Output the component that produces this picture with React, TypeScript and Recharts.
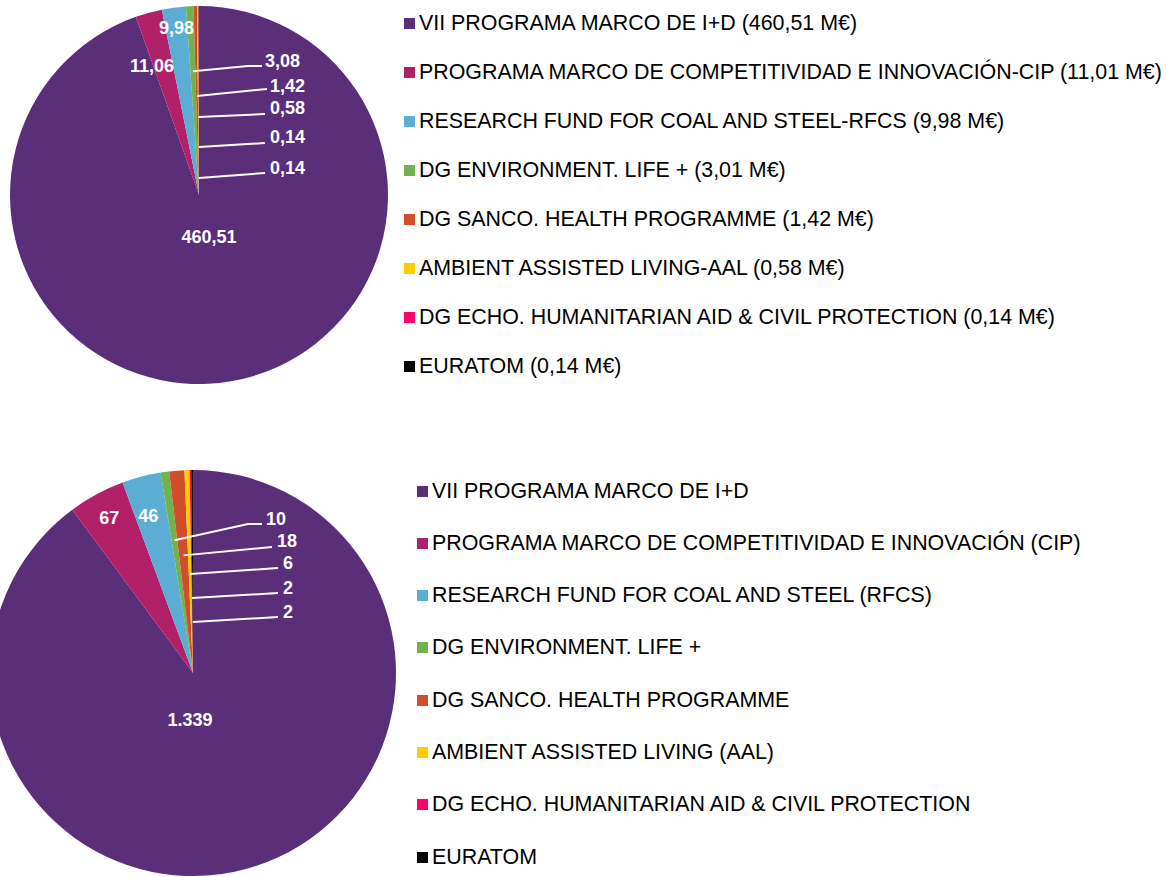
import React from 'react';
import { PieChart, Pie, Cell } from 'recharts';

const colors = ['#5B2E7A', '#B3206A', '#5CADD3', '#6FB24E', '#D24E2B', '#FFCC00', '#FF0066', '#000000'];

const topLegend = [
  'VII PROGRAMA MARCO DE I+D (460,51 M€)',
  'PROGRAMA MARCO DE COMPETITIVIDAD E INNOVACIÓN-CIP (11,01 M€)',
  'RESEARCH FUND FOR COAL AND STEEL-RFCS (9,98 M€)',
  'DG ENVIRONMENT. LIFE + (3,01 M€)',
  'DG SANCO. HEALTH PROGRAMME (1,42 M€)',
  'AMBIENT ASSISTED LIVING-AAL (0,58 M€)',
  'DG ECHO. HUMANITARIAN AID & CIVIL PROTECTION (0,14 M€)',
  'EURATOM (0,14 M€)',
];
const topValues = [460.51, 11.06, 9.98, 3.08, 1.42, 0.58, 0.14, 0.14];
const topLabels = ['460,51', '11,06', '9,98', '3,08', '1,42', '0,58', '0,14', '0,14'];

const bottomLegend = [
  'VII PROGRAMA MARCO DE I+D',
  'PROGRAMA MARCO DE COMPETITIVIDAD E INNOVACIÓN (CIP)',
  'RESEARCH FUND FOR COAL AND STEEL (RFCS)',
  'DG ENVIRONMENT. LIFE +',
  'DG SANCO. HEALTH PROGRAMME',
  'AMBIENT ASSISTED LIVING (AAL)',
  'DG ECHO. HUMANITARIAN AID & CIVIL PROTECTION',
  'EURATOM',
];
const bottomValues = [1339, 67, 46, 10, 18, 6, 2, 2];
const bottomLabels = ['1.339', '67', '46', '10', '18', '6', '2', '2'];

// label layout (relative to pie centre)
type Lay =
  | { t: 'in'; r: number; da: number }
  | { t: 'lead'; rs: number; kx?: number; ex: number; ey: number; tx: number; ty: number };

const topLayout: Lay[] = [
  { t: 'in', r: 43, da: 3.6 },
  { t: 'in', r: 137, da: 4.6 },
  { t: 'in', r: 168, da: 0 },
  { t: 'lead', rs: 124, kx: 49, ex: 63, ey: -129, tx: 66, ty: -134 },
  { t: 'lead', rs: 99, ex: 68, ey: -106, tx: 71, ty: -109 },
  { t: 'lead', rs: 78, ex: 66, ey: -81, tx: 71, ty: -87 },
  { t: 'lead', rs: 48, ex: 66, ey: -52, tx: 71, ty: -58 },
  { t: 'lead', rs: 17, ex: 66, ey: -22, tx: 71, ty: -27 },
];
const bottomLayout: Lay[] = [
  { t: 'in', r: 47, da: -21.8 },
  { t: 'in', r: 176, da: 0 },
  { t: 'in', r: 163, da: 1.2 },
  { t: 'lead', rs: 134, kx: 55, ex: 69, ey: -149, tx: 73, ty: -154 },
  { t: 'lead', rs: 118, ex: 79, ey: -126, tx: 84, ty: -132 },
  { t: 'lead', rs: 99, ex: 85, ey: -105, tx: 90, ty: -110 },
  { t: 'lead', rs: 75, ex: 85, ey: -80, tx: 90, ty: -85 },
  { t: 'lead', rs: 51, ex: 85, ey: -56, tx: 90, ty: -61 },
];

const RAD = Math.PI / 180;
const FONT = '"Liberation Sans", Arial, sans-serif';
const NO_MARGIN = { top: 0, right: 0, bottom: 0, left: 0 };

const makeLabel = (layout: Lay[], labels: string[]) => (props: any) => {
  const { cx, cy, midAngle, index } = props;
  const L = layout[index];
  const textStyle = { fontFamily: FONT, fontWeight: 700, fontSize: 18, fill: '#FFFFFF' };
  if (L.t === 'in') {
    const a = (midAngle + L.da) * RAD;
    const x = cx + L.r * Math.cos(a);
    const y = cy - L.r * Math.sin(a);
    return (
      <text key={'l' + index} x={x} y={y} textAnchor="middle" dominantBaseline="central" style={textStyle}>
        {labels[index]}
      </text>
    );
  }
  const a = midAngle * RAD;
  const sx = cx + L.rs * Math.cos(a);
  const sy = cy - L.rs * Math.sin(a);
  const pts: number[] = [sx, sy];
  if (L.kx !== undefined) pts.push(cx + L.kx, cy + L.ey);
  pts.push(cx + L.ex, cy + L.ey);
  return (
    <g key={'l' + index}>
      <polyline points={pts.join(',')} fill="none" stroke="#FFFFFF" strokeWidth={2} />
      <text x={cx + L.tx} y={cy + L.ty} textAnchor="start" dominantBaseline="central" style={textStyle}>
        {labels[index]}
      </text>
    </g>
  );
};

const LegendBlock = ({ items, left, top, step }: { items: string[]; left: number; top: number; step: number }) => (
  <div style={{ position: 'absolute', left, top: 0, fontFamily: FONT, fontSize: 21.4, color: '#000' }}>
    {items.map((s, i) => (
      <div
        key={i}
        style={{
          position: 'absolute',
          left: 0,
          top: top + i * step - 15,
          height: 30,
          display: 'flex',
          alignItems: 'center',
          whiteSpace: 'nowrap',
        }}
      >
        <span style={{ display: 'inline-block', width: 11, height: 11, background: colors[i], marginRight: 4 }} />
        <span>{s}</span>
      </div>
    ))}
  </div>
);

export default function App() {
  const topData = topValues.map((v, i) => ({ name: topLegend[i], value: v }));
  const bottomData = bottomValues.map((v, i) => ({ name: bottomLegend[i], value: v }));
  return (
    <div style={{ position: 'absolute', left: 0, top: 0, width: 1166, height: 877, overflow: 'hidden', background: '#fff' }}>
      <div style={{ position: 'absolute', left: 0, top: 0 }}>
        <PieChart width={420} height={420} margin={NO_MARGIN}>
          <Pie
            data={topData}
            dataKey="value"
            nameKey="name"
            cx={199}
            cy={195}
            outerRadius={189}
            startAngle={90}
            endAngle={-270}
            stroke="none"
            isAnimationActive={false}
            labelLine={false}
            label={makeLabel(topLayout, topLabels)}
          >
            {topData.map((_, i) => (
              <Cell key={i} fill={colors[i]} />
            ))}
          </Pie>
        </PieChart>
      </div>
      <LegendBlock items={topLegend} left={404} top={23} step={49.1} />
      <div style={{ position: 'absolute', left: 0, top: 420 }}>
        <PieChart width={420} height={457} margin={NO_MARGIN}>
          <Pie
            data={bottomData}
            dataKey="value"
            nameKey="name"
            cx={193}
            cy={253}
            outerRadius={203}
            startAngle={90}
            endAngle={-270}
            stroke="none"
            isAnimationActive={false}
            labelLine={false}
            label={makeLabel(bottomLayout, bottomLabels)}
          >
            {bottomData.map((_, i) => (
              <Cell key={i} fill={colors[i]} />
            ))}
          </Pie>
        </PieChart>
      </div>
      <LegendBlock items={bottomLegend} left={417} top={491} step={52.3} />
    </div>
  );
}
